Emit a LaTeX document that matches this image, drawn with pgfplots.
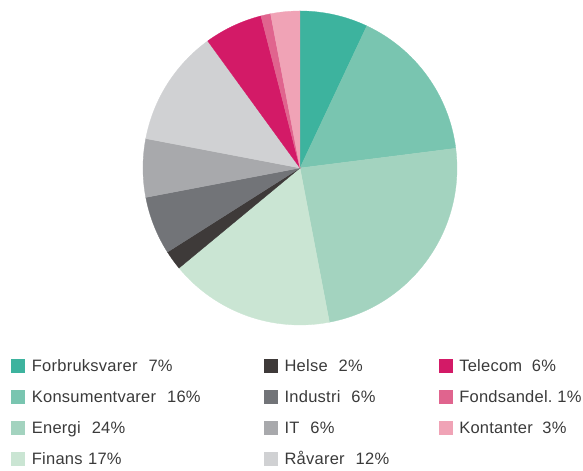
\documentclass[border=0pt]{standalone}
\usepackage{fontspec}
\setmainfont{Liberation Sans}[LetterSpace=1.5]
\usepackage{pgfplots}
\usepackage{pgfplotstable}
\pgfplotsset{compat=1.18}

\definecolor{col0}{HTML}{3DB39E}
\definecolor{col1}{HTML}{79C5B0}
\definecolor{col2}{HTML}{A3D3BF}
\definecolor{col3}{HTML}{CAE5D3}
\definecolor{col4}{HTML}{3E3A39}
\definecolor{col5}{HTML}{727478}
\definecolor{col6}{HTML}{A8A9AC}
\definecolor{col7}{HTML}{D0D1D3}
\definecolor{col8}{HTML}{D31A67}
\definecolor{col9}{HTML}{E0648E}
\definecolor{col10}{HTML}{F0A3B6}
\definecolor{txt}{HTML}{3A3A3A}

% share in percent, clockwise from 12 o'clock
\pgfplotstableread{
v
7
16
24
17
2
6
6
12
6
1
3
}\piedata

\begin{document}
\begin{tikzpicture}
\begin{axis}[
    hide axis,
    x=157pt, y=157pt,
    xmin=-1, xmax=1, ymin=-1, ymax=1,
    clip=false,
    font=\fontsize{16.5}{20}\selectfont,
    legend columns=3,
    legend image code/.code={\fill[#1, draw=none] (0pt,-2pt) rectangle (14pt,12pt); \path (20.5pt,0pt);},
    legend style={
        at={(rel axis cs:-0.4204,-0.1083)}, anchor=north west,
        draw=none, fill=none, inner sep=0pt,
        column sep=0pt, row sep=15pt,
        text=txt,
        nodes={inner sep=0pt, anchor=base west, text height=12pt, text depth=4pt},
    },
    legend cell align=left,
]
% bounding box of the reference picture
\path (rel axis cs:-0.4554,-0.4650) rectangle (rel axis cs:1.4013,1.035);

\pgfmathsetmacro\cum{0}
\pgfplotsforeachungrouped \i in {0,...,10}{
  \pgfplotstablegetelem{\i}{v}\of\piedata
  \pgfmathsetmacro\a{90-3.6*\cum}
  \pgfmathsetmacro\b{90-3.6*(\cum+\pgfplotsretval)}
  \pgfmathsetmacro\cum{\cum+\pgfplotsretval}
  \edef\temp{\noexpand\filldraw[col\i, line width=0.3pt] (axis cs:0,0) -- (axis cs:{cos(\a)},{sin(\a)}) arc[start angle=\a, end angle=\b, radius=157pt] -- cycle;}
  \temp
}

\addlegendimage{fill=col0}\addlegendentry[text width=232pt]{Forbruksvarer\ \ 7\%}
\addlegendimage{fill=col4}\addlegendentry[text width=154pt]{Helse\ \ 2\%}
\addlegendimage{fill=col8}\addlegendentry{Telecom\ \ 6\%}
\addlegendimage{fill=col1}\addlegendentry[text width=232pt]{Konsumentvarer\ \ 16\%}
\addlegendimage{fill=col5}\addlegendentry[text width=154pt]{Industri\ \ 6\%}
\addlegendimage{fill=col9}\addlegendentry{Fondsandel.\ 1\%}
\addlegendimage{fill=col2}\addlegendentry[text width=232pt]{Energi\ \ 24\%}
\addlegendimage{fill=col6}\addlegendentry[text width=154pt]{IT\ \ 6\%}
\addlegendimage{fill=col10}\addlegendentry{Kontanter\ \ 3\%}
\addlegendimage{fill=col3}\addlegendentry[text width=232pt]{Finans 17\%}
\addlegendimage{fill=col7}\addlegendentry[text width=154pt]{Råvarer\ \ 12\%}
\end{axis}
\end{tikzpicture}
\end{document}
